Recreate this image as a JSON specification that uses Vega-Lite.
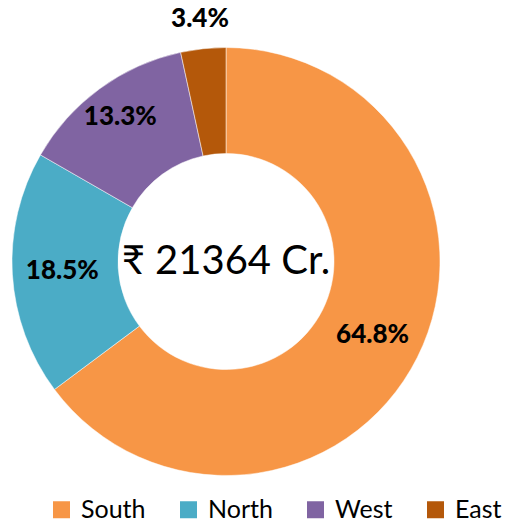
{
  "$schema": "https://vega.github.io/schema/vega-lite/v6.json",
  "autosize": "none",
  "padding": {"left": 0, "top": 0, "right": 56, "bottom": 0},
  "width": 452,
  "height": 523,
  "background": "white",
  "config": {"view": {"stroke": null}, "font": "Lato, 'Noto Sans', sans-serif"},
  "data": {"values": [
    {"region": "South", "value": 0.648},
    {"region": "North", "value": 0.185},
    {"region": "West", "value": 0.133},
    {"region": "East", "value": 0.034}
  ]},
  "encoding": {
    "theta": {"field": "value", "type": "quantitative", "stack": true},
    "order": {"field": "value", "sort": "descending"}
  },
  "layer": [
    {
      "mark": {"type": "arc", "outerRadius": 214, "innerRadius": 108, "stroke": "white", "strokeWidth": 0.5},
      "encoding": {
        "color": {
          "field": "region", "type": "nominal",
          "scale": {"domain": ["South", "North", "West", "East"], "range": ["#F79646", "#4BACC6", "#8064A2", "#B4580A"]},
          "legend": {
            "title": null, "orient": "none", "direction": "horizontal",
            "legendX": 49, "legendY": 497,
            "symbolType": "square", "symbolSize": 289, "symbolStrokeWidth": 0,
            "symbolOpacity": 1,
            "labelFont": "Lato, 'Noto Sans', sans-serif", "labelFontSize": 25, "labelColor": "#000000",
            "labelOffset": 7, "columnPadding": 30
          }
        }
      }
    },
    {
      "mark": {"type": "text", "radius": 164, "fontSize": 26, "fontWeight": 900, "color": "#000000"},
      "encoding": {
        "text": {"field": "value", "type": "quantitative", "format": ".1%"},
        "opacity": {"condition": {"test": "datum.region === 'South' || datum.region === 'North'", "value": 1}, "value": 0}
      }
    },
    {
      "mark": {"type": "text", "radius": 179, "fontSize": 26, "fontWeight": 900, "color": "#000000"},
      "encoding": {
        "text": {"field": "value", "type": "quantitative", "format": ".1%"},
        "opacity": {"condition": {"test": "datum.region === 'West'", "value": 1}, "value": 0}
      }
    },
    {
      "mark": {"type": "text", "radius": 244, "fontSize": 26, "fontWeight": 900, "color": "#000000"},
      "encoding": {
        "text": {"field": "value", "type": "quantitative", "format": ".1%"},
        "opacity": {"condition": {"test": "datum.region === 'East'", "value": 1}, "value": 0}
      }
    },
    {
      "data": {"values": [{"t": "₹ 21364 Cr."}]},
      "mark": {"type": "text", "fontSize": 40, "color": "#000000", "dy": 0},
      "encoding": {"text": {"field": "t", "type": "nominal"}, "theta": null, "order": null}
    }
  ]
}
